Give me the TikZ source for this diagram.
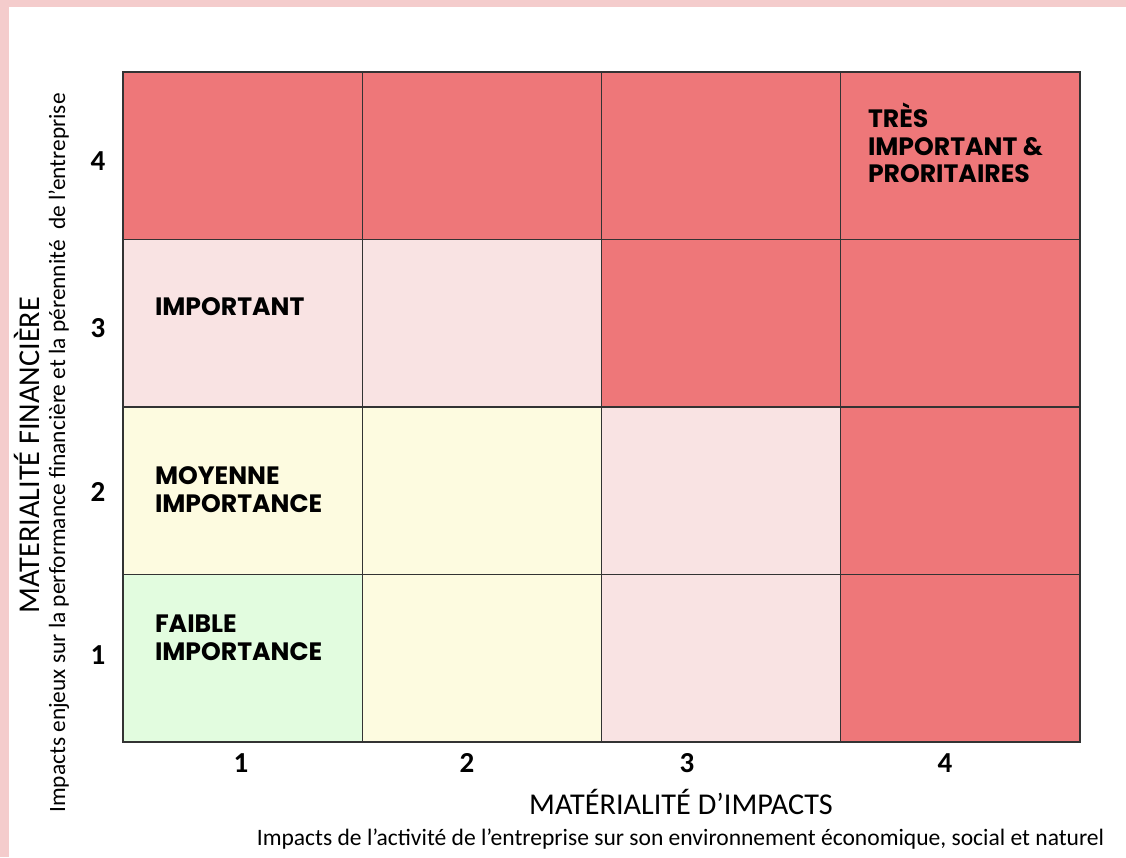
\documentclass[tikz,border=0pt]{standalone}
\usepackage{fontspec}
\setmainfont{Carlito}
\newfontfamily\poppins{Poppins}

\definecolor{rouge}{HTML}{EE7779}
\definecolor{rose}{HTML}{F9E3E3}
\definecolor{jaune}{HTML}{FDFBE0}
\definecolor{vert}{HTML}{E2FCDF}
\definecolor{cadre}{HTML}{F4CCCC}
\definecolor{trait}{HTML}{333333}

\begin{document}
\begin{tikzpicture}[scale=1.0]
\tikzset{ inner sep=0pt, outer sep=0pt,
  cell/.style={draw=trait, line width=0.8pt, minimum width=4.785cm, minimum height=3.35cm},
  lbl/.style={anchor=base west, align=left, font=\poppins\bfseries\fontsize{14.3}{15.9}\selectfont},
  num/.style={anchor=base, font=\bfseries\fontsize{16.5}{19}\selectfont},
}

\useasboundingbox (0,0) rectangle (22.52,17.14);
\fill [white] (0,0) rectangle (22.52,17.14);
\fill [cadre] (0,16.99) rectangle (22.52,17.14);
\fill [cadre] (0,0) rectangle (0.17,17.14);

%\draw [lightgray, dashed](0,0) grid (22,17);

\node [cell, fill=rouge] (c14) at (4.8525,14.025) {};
\node [cell, fill=rouge] (c24) at (9.6375,14.025) {};
\node [cell, fill=rouge] (c34) at (14.4225,14.025) {};
\node [cell, fill=rouge] (c44) at (19.2075,14.025) {};

\node [cell, fill=rose]  (c13) at (4.8525,10.675) {};
\node [cell, fill=rose]  (c23) at (9.6375,10.675) {};
\node [cell, fill=rouge] (c33) at (14.4225,10.675) {};
\node [cell, fill=rouge] (c43) at (19.2075,10.675) {};

\node [cell, fill=jaune] (c12) at (4.8525,7.325) {};
\node [cell, fill=jaune] (c22) at (9.6375,7.325) {};
\node [cell, fill=rose]  (c32) at (14.4225,7.325) {};
\node [cell, fill=rouge] (c42) at (19.2075,7.325) {};

\node [cell, fill=vert]  (c11) at (4.8525,3.975) {};
\node [cell, fill=jaune] (c21) at (9.6375,3.975) {};
\node [cell, fill=rose]  (c31) at (14.4225,3.975) {};
\node [cell, fill=rouge] (c41) at (19.2075,3.975) {};

% base = last line
\node [lbl] (Tres)    at (17.36,13.48) {TRÈS\\IMPORTANT \&\\PRORITAIRES};
\node [lbl] (Imp)     at (3.10,10.82) {IMPORTANT};
\node [lbl] (Moyenne) at (3.10,6.90) {MOYENNE\\IMPORTANCE};
\node [lbl] (Faible)  at (3.10,3.94) {FAIBLE\\IMPORTANCE};

\node [num] (Y4) at (1.96,13.72) {4};
\node [num] (Y3) at (1.96,10.38) {3};
\node [num] (Y2) at (1.96,7.10) {2};
\node [num] (Y1) at (1.96,3.86) {1};

\node [num] (X1) at (4.82,1.70) {1};
\node [num] (X2) at (9.34,1.70) {2};
\node [num] (X3) at (13.74,1.70) {3};
\node [num] (X4) at (18.90,1.70) {4};

\node [anchor=base, font=\fontsize{17.2}{20}\selectfont] (Gx) at (13.62,0.86) {MATÉRIALITÉ D’IMPACTS};
\node [anchor=base, font=\fontsize{13.4}{16}\selectfont] (Gxs) at (13.61,0.24)
  {Impacts de l’activité de l’entreprise sur son environnement économique, social et naturel};

\node [anchor=base, rotate=90, font=\fontsize{17.2}{20}\selectfont] (Gy) at (0.80,8.04) {MATERIALITÉ FINANCIÈRE};
\node [anchor=base, rotate=90, font=\fontsize{13.3}{16}\selectfont] (Gys) at (1.30,8.08)
  {Impacts enjeux sur la performance financière et la pérennité\ \ de l’entreprise};

\end{tikzpicture}
\end{document}
